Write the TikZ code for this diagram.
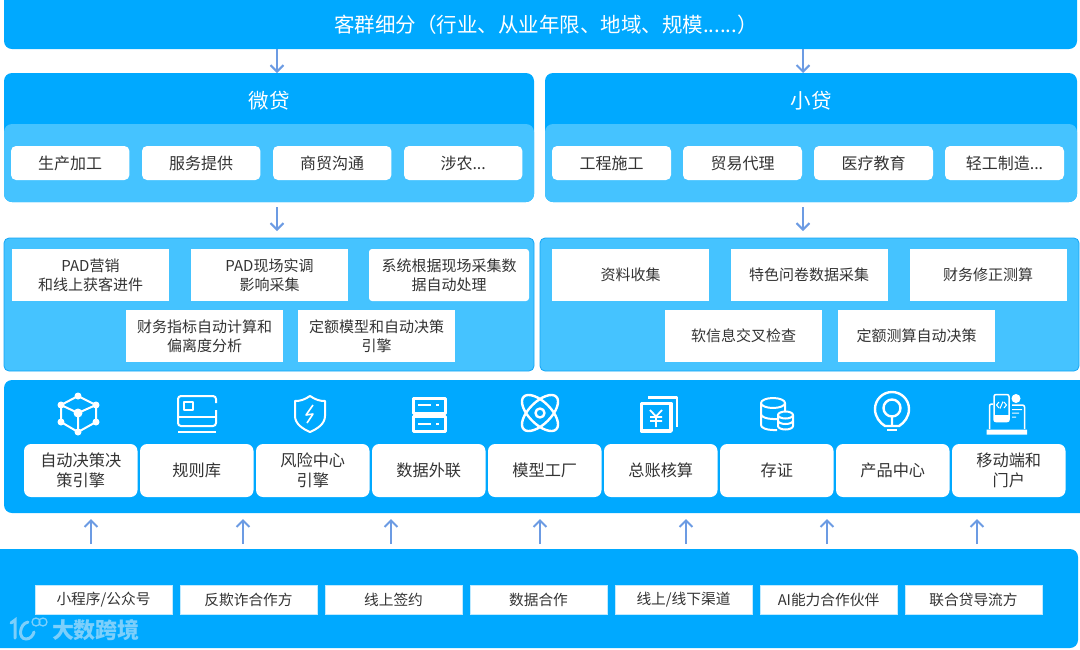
\documentclass[tikz,border=0pt]{standalone}
\usepackage{fontspec}
\setmainfont{Noto Sans CJK SC}
\usepackage{xcolor}
\usetikzlibrary{arrows.meta, positioning}
\definecolor{mainblue}{HTML}{00A9FF}
\definecolor{lightblue}{HTML}{45C3FF}
\definecolor{edgeblue}{HTML}{14A5F5}
\definecolor{arrowblue}{HTML}{6C9BE3}
\definecolor{textgrey}{HTML}{333333}
\definecolor{markblue}{HTML}{7CCFFB}

\begin{document}
\begin{tikzpicture}[x=1pt, y=-1pt, node distance=12.6pt,
  >={Straight Barb[length=6.5pt, width=13pt]},
  every node/.style={inner sep=0pt, outer sep=0pt, anchor=north west, align=center, text=textgrey},
  bar/.style={fill=mainblue, rounded corners=8pt},
  panel/.style={fill=lightblue, draw=edgeblue, line width=0.8pt, rounded corners=5pt},
  inner/.style={fill=lightblue, rounded corners=8pt},
  head/.style={anchor=center, text=white, font=\fontsize{20.5}{24}\selectfont},
  chip/.style={fill=white, rounded corners=5pt, minimum height=34pt, font=\fontsize{16}{20}\selectfont},
  leftchip/.style={chip, minimum width=118.4pt},
  rightchip/.style={chip, minimum width=119pt},
  stepbox/.style={fill=white, minimum width=157pt, minimum height=52pt, font=\fontsize{15}{19}\selectfont},
  card/.style={fill=white, rounded corners=7pt, minimum width=113.5pt, minimum height=53pt, font=\fontsize{16.2}{20}\selectfont},
  partner/.style={fill=white, draw=white!75!mainblue, line width=0.5pt, minimum width=137pt, minimum height=29pt, font=\fontsize{14.7}{18}\selectfont},
  flow/.style={->, arrowblue, line width=2pt},
  icon/.style={draw=white, line width=2.4pt, line join=round}]
  \useasboundingbox (0,0) rectangle (1080,649);

  \node[bar, minimum width=1073pt, minimum height=57pt] (segment) at (4,-8) {};
  \node[anchor=center, text=white, font=\fontsize{20.5}{24}\selectfont] (segtitle) at (546,25) {客群细分（行业、从业年限、地域、规模......）};

  \node[bar, minimum width=530pt, minimum height=129pt] (micro) at (4,73) {};
  \node[inner, minimum width=530pt, minimum height=78pt] (microin) at (4,124) {};
  \node[head] (microtitle) at (269,101) {微贷};
  \node[leftchip] (shengchan) at (11,146) {生产加工};
  \node[leftchip, right=of shengchan] (fuwu) {服务提供};
  \node[leftchip, right=of fuwu] (shangmao) {商贸沟通};
  \node[leftchip, right=of shangmao] (shenong) {涉农...};

  \node[bar, minimum width=532pt, minimum height=129pt] (small) at (545,73) {};
  \node[inner, minimum width=532pt, minimum height=78pt] (smallin) at (545,124) {};
  \node[head] (smalltitle) at (811,101) {小贷};
  \node[rightchip] (gongcheng) at (552,146) {工程施工};
  \node[rightchip, right=12pt of gongcheng] (maoyi) {贸易代理};
  \node[rightchip, right=12pt of maoyi] (yiliao) {医疗教育};
  \node[rightchip, right=12pt of yiliao] (qinggong) {轻工制造...};

  \node[panel, minimum width=530pt, minimum height=133pt] (microflow) at (4,238) {};
  \node[stepbox] (padsale) at (12,249) {PAD营销\\和线上获客进件};
  \node[stepbox, right=22pt of padsale] (padsite) {PAD现场实调\\影响采集};
  \node[stepbox, right=21pt of padsite, minimum width=160pt, rounded corners=3pt] (autoproc) {系统根据现场采集数\\据自动处理};
  \node[stepbox] (finindex) at (126,310) {财务指标自动计算和\\偏离度分析};
  \node[stepbox, right=15pt of finindex] (quotamodel) {定额模型和自动决策\\引擎};

  \node[panel, minimum width=539pt, minimum height=133pt] (smallflow) at (540,238) {};
  \node[stepbox] (collect) at (552,249) {资料收集};
  \node[stepbox, right=21.5pt of collect] (survey) {特色问卷数据采集};
  \node[stepbox, right=22pt of survey] (fincorrect) {财务修正测算};
  \node[stepbox] (softcheck) at (665,310) {软信息交叉检查};
  \node[stepbox, right=16pt of softcheck] (quotacalc) {定额测算自动决策};

  \node[bar, minimum width=1084pt, minimum height=133pt] (platform) at (4,380) {};
  \node[card] (engine) at (24,444) {自动决策决\\策引擎};
  \node[card, right=2.5pt of engine] (rules) {规则库};
  \node[card, right=2.5pt of rules] (risk) {风险中心\\引擎};
  \node[card, right=2.5pt of risk] (dataout) {数据外联};
  \node[card, right=2.5pt of dataout] (factory) {模型工厂};
  \node[card, right=2.5pt of factory] (ledger) {总账核算};
  \node[card, right=2.5pt of ledger] (deposit) {存证};
  \node[card, right=2.5pt of deposit] (product) {产品中心};
  \node[card, right=2.5pt of product] (mobile) {移动端和\\门户};

  \node[bar, minimum width=1086pt, minimum height=99pt] (bottom) at (-8,549) {};
  \node[partner] (miniapp) at (35,585) {小程序/公众号};
  \node[partner, right=8pt of miniapp] (antifraud) {反欺诈合作方};
  \node[partner, right=8pt of antifraud] (signing) {线上签约};
  \node[partner, right=8pt of signing] (datapart) {数据合作};
  \node[partner, right=8pt of datapart] (channel) {线上/线下渠道};
  \node[partner, right=8pt of channel] (aipart) {AI能力合作伙伴};
  \node[partner, right=8pt of aipart] (joint) {联合贷导流方};
  \node[anchor=west, text=markblue, font=\fontsize{22}{24}\selectfont\bfseries] (watermark) at (52,630) {大数跨境};

  \draw[flow] (segment.south -| 277,0) -- (micro.north -| 277,0);
  \draw[flow] (segment.south -| 803,0) -- (small.north -| 803,0);
  \draw[flow, shorten <=5pt, shorten >=7pt] (microin.south -| 277,0) -- (microflow.north -| 277,0);
  \draw[flow, shorten <=5pt, shorten >=7pt] (smallin.south -| 803,0) -- (smallflow.north -| 803,0);
  \draw[flow, shorten <=5pt, shorten >=6pt] (bottom.north -| 91,0) -- (platform.south -| 91,0);
  \draw[flow, shorten <=5pt, shorten >=6pt] (bottom.north -| 243,0) -- (platform.south -| 243,0);
  \draw[flow, shorten <=5pt, shorten >=6pt] (bottom.north -| 391,0) -- (platform.south -| 391,0);
  \draw[flow, shorten <=5pt, shorten >=6pt] (bottom.north -| 540,0) -- (platform.south -| 540,0);
  \draw[flow, shorten <=5pt, shorten >=6pt] (bottom.north -| 686,0) -- (platform.south -| 686,0);
  \draw[flow, shorten <=5pt, shorten >=6pt] (bottom.north -| 827,0) -- (platform.south -| 827,0);
  \draw[flow, shorten <=5pt, shorten >=6pt] (bottom.north -| 977,0) -- (platform.south -| 977,0);

  % icons
  \draw[icon, line width=2pt] (78,396) -- (61,405) -- (61,422) -- (78,432) -- (96,422) -- (96,405) -- cycle;
  \draw[icon, line width=2pt] (61,405) -- (78,413) -- (96,405) (78,413) -- (78,432);
  \fill[white] (78,396) circle (3.5) (61,405) circle (3.5) (96,405) circle (3.5) (61,422) circle (3.5)
    (96,422) circle (3.5) (78,432) circle (3.5) (78,413) circle (4.5);

  \draw[icon, line width=2pt, rounded corners=3pt] (216,403) -- (216,396) -- (178,396) -- (178,426) -- (216,426) -- (216,410);
  \draw[icon, line width=2pt] (184,402) rectangle (193,410) (178,417) -- (216,417) (178,431.5) -- (216,431.5);

  \draw[icon, line width=2pt] (310,396) .. controls (316,400) and (320,401) .. (325,401) -- (325,416)
    .. controls (325,424) and (317,429) .. (310,432) .. controls (303,429) and (295,424) .. (295,416) -- (295,401)
    .. controls (300,401) and (304,400) .. (310,396) -- cycle;
  \draw[icon, line width=1.6pt] (313,405) -- (306,415) -- (313,414) -- (307,423);

  \draw[icon, line width=3pt] (413,398) rectangle (445,413) (413,416) rectangle (445,431);
  \draw[icon, line width=1.6pt] (418,405) -- (431,405) (436,405) -- (439,405) (418,424) -- (431,424) (436,424) -- (439,424);

  \draw[icon] (540,413) circle (4.5);
  \draw[icon, rotate around={45:(540,413)}] (540,413) ellipse (23 and 11);
  \draw[icon, rotate around={-45:(540,413)}] (540,413) ellipse (23 and 11);

  \draw[icon, line width=3.5pt] (641.5,403.5) rectangle (671,431);
  \draw[icon] (648,397.5) -- (677,397.5) -- (677,427);
  \draw[icon, line width=1.8pt] (650,410) -- (656,416.5) -- (662,410) (650,417) -- (662,417) (650,421) -- (662,421) (656,416.5) -- (656,427);

  \draw[icon, line width=2pt] (773,403) ellipse (12 and 5) (785,403) -- (785,411)
    (761,403) -- (761,425) arc (180:90:12 and 5) -- (777,430) (761,414) arc (180:90:12 and 5) -- (777,419);
  \draw[icon, line width=2pt] (785.5,415) ellipse (7.5 and 3.5) (778,415) -- (778,426) arc (180:0:7.5 and 3.5) -- (793,415)
    (778,420.5) arc (180:0:7.5 and 3.5);

  \draw[icon] (885,426) .. controls (880,423) and (875,417) .. (875,409) arc (180:360:17) .. controls (909,417) and (904,423) .. (899,426) -- cycle;
  \draw[icon] (892,408) circle (8.5) (892,416.5) -- (892,426);
  \draw[icon, line width=1.8pt] (887,430) -- (897,430);

  \draw[icon, line width=1.5pt, rounded corners=2pt] (993,404) -- (989.5,404) -- (989.5,429) (1012,405) -- (1024.5,405) -- (1024.5,429);
  \draw[icon, line width=1.5pt, rounded corners=2pt, fill=mainblue] (994,394.5) rectangle (1009,421.5);
  \fill[white] (994,415) rectangle (1009,421.5) (1016,398.5) circle (4.5) (986.5,429.5) rectangle (1027,434.5);
  \draw[icon, line width=1pt] (1012,409.5) -- (1022,409.5) (1012,413) -- (1019,413) (1012,417) -- (1016,417)
    (999,402) -- (996.5,405) -- (999,408) (1004,402) -- (1006.5,405) -- (1004,408) (1003,401.5) -- (1000,408.5);

  % mark beside the lettering
  \draw[markblue, line width=3pt, line cap=round] (11,623) -- (15,620) -- (15,638);
  \draw[markblue, line width=3pt, line cap=round] (28,622) .. controls (19,624) and (18,639) .. (26,639) .. controls (30,639) and (33,636) .. (34,632);
  \draw[markblue, line width=1.3pt] (36,622) circle (4) (43,622) circle (4);
\end{tikzpicture}
\end{document}
